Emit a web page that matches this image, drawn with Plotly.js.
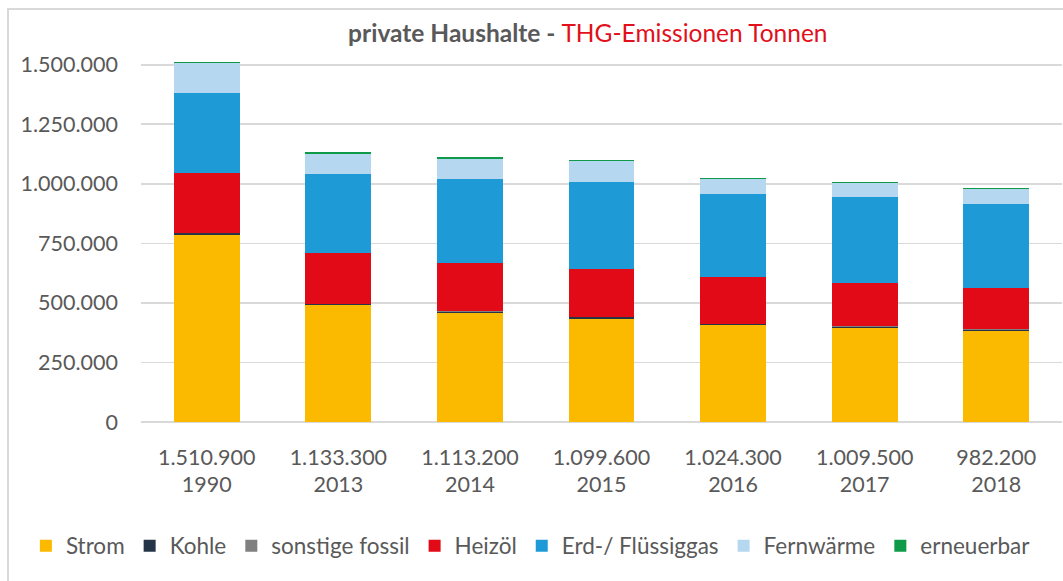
<!DOCTYPE html>
<html>
<head>
<meta charset="utf-8">
<script src="https://cdn.plot.ly/plotly-3.0.1.min.js"></script>
<style>
  html, body { margin: 0; padding: 0; background: #fff; overflow: hidden; }
  #chart { width: 1063px; height: 581px; position: absolute; left: 0; top: 0; }
  #frame { position: absolute; left: 7px; top: 8px; width: 1100px; height: 620px;
           border-left: 2px solid #D9D9D9; border-top: 2px solid #D9D9D9; pointer-events: none; }
</style>
</head>
<body>
<div id="chart"></div>
<div id="frame"></div>
<script>
// Categories (years) and their totals as printed on the x axis
const years = ["1990", "2013", "2014", "2015", "2016", "2017", "2018"];
const totalLabels = ["1.510.900", "1.133.300", "1.113.200", "1.099.600", "1.024.300", "1.009.500", "982.200"];

// Series values (tonnes)
const strom      = [785000, 493000, 456000, 432000, 406000, 396000, 383000];
const kohle      = [7000,   1000,   6500,   8000,   5000,   5000,   4500];
const sonstige   = [1000,   500,    3000,   3000,   2000,   2500,   2000];
const heizoel    = [254000, 214000, 201000, 198000, 195000, 180000, 174000];
const erdgas     = [335000, 334000, 355000, 367000, 349000, 362000, 351000];
const fernwaerme = [124000, 84000,  85000,  86600,  62000,  59000,  63000];
const erneuerbar = [4900,   6800,   6700,   5000,   5300,   5000,   4700];

// Y axis ticks
const yTickVals = [0, 250000, 500000, 750000, 1000000, 1250000, 1500000];
const yTickText = ["0", "250.000", "500.000", "750.000", "1.000.000", "1.250.000", "1.500.000"];

const seriesNames = ["Strom", "Kohle", "sonstige fossil", "Heizöl", "Erd-/ Flüssiggas", "Fernwärme", "erneuerbar"];
const seriesValues = [strom, kohle, sonstige, heizoel, erdgas, fernwaerme, erneuerbar];
const seriesColors = ["#FBB900", "#253447", "#808080", "#E20A16", "#1E9BD7", "#B5D7EF", "#0E9A48"];

const xLabels = years.map((y, i) => totalLabels[i] + "<br>" + y);

const traces = seriesNames.map((name, k) => ({
  type: "bar",
  name: name,
  x: xLabels,
  y: seriesValues[k],
  marker: { color: seriesColors[k], line: { width: 0 } },
  hoverinfo: "skip"
}));

const font = "Lato, 'Open Sans', sans-serif";

const layout = {
  width: 1063,
  height: 581,
  barmode: "stack",
  bargap: 0.5,
  paper_bgcolor: "rgba(0,0,0,0)",
  plot_bgcolor: "rgba(0,0,0,0)",
  margin: { l: 141, r: 1, t: 41, b: 159, pad: 0 },
  font: { family: font, color: "#595959", size: 21 },
  title: {
    text: "<b>private Haushalte - </b><span style='color:#E2101A'>THG-Emissionen Tonnen</span>",
    font: { family: font, size: 24.5, color: "#595959" },
    xref: "container", x: 0.553, xanchor: "center",
    yref: "container", y: 1 - 33 / 581, yanchor: "middle"
  },
  xaxis: {
    type: "category",
    showgrid: false,
    showline: false,
    zeroline: false,
    ticks: "",
    tickfont: { family: font, size: 21.5, color: "#595959" },
    ticklabelstandoff: 20,
    fixedrange: true
  },
  yaxis: {
    range: [0, 1600000],
    tickvals: yTickVals,
    ticktext: yTickText,
    showgrid: true,
    gridcolor: "#D9D9D9",
    gridwidth: 1.7,
    zeroline: true,
    zerolinecolor: "#D9D9D9",
    zerolinewidth: 1.7,
    showline: false,
    ticks: "",
    tickfont: { family: font, size: 21.5, color: "#595959" },
    ticklabelstandoff: 22,
    fixedrange: true
  },
  legend: {
    orientation: "h",
    x: -0.125, xanchor: "left",
    y: (422 - 546) / 381, yanchor: "middle",
    font: { family: font, size: 22.5, color: "#595959" },
    traceorder: "normal",
    itemclick: false,
    itemdoubleclick: false
  },
  showlegend: true
};

Plotly.newPlot("chart", traces, layout, { displayModeBar: false, staticPlot: true });
</script>
</body>
</html>
